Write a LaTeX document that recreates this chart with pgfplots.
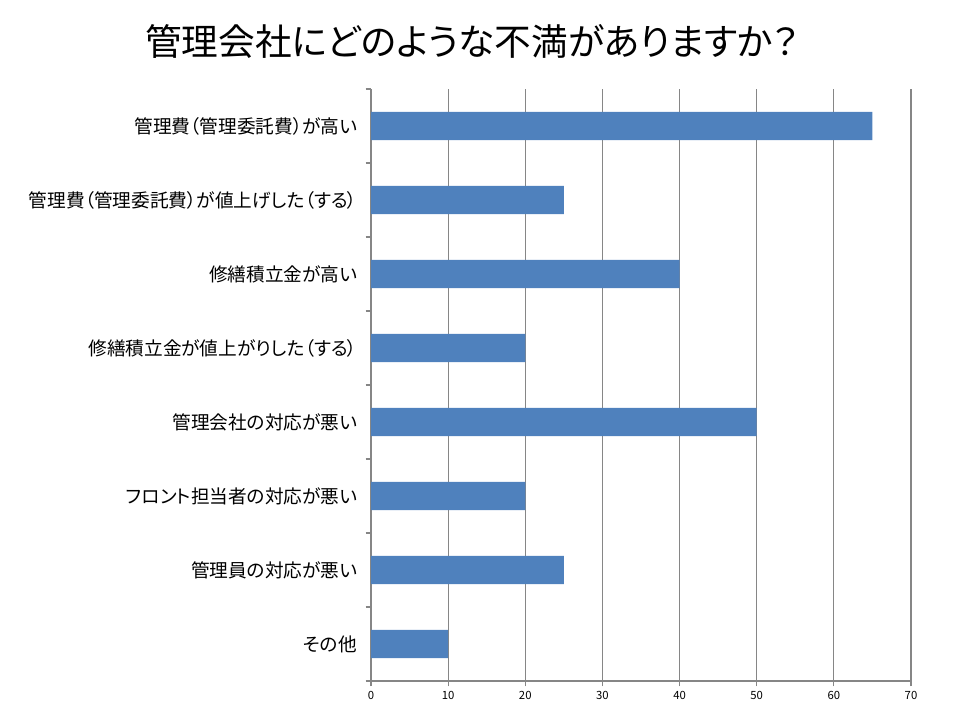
\documentclass[border=0pt]{standalone}
\usepackage{pgfplots}
\pgfplotsset{compat=1.18}
\usepackage{fontspec}
\setmainfont{Noto Sans CJK JP}[RawFeature=+palt]
\newfontfamily\titlefont{Noto Sans CJK JP}[RawFeature=+palt]
\definecolor{barblue}{HTML}{4F81BD}
\definecolor{gridgray}{HTML}{868686}
\begin{document}
\begin{tikzpicture}
\path[use as bounding box] (0,0) rectangle (720pt,540pt);
\node[font=\titlefont\fontsize{27.5}{30}\selectfont] at (354pt,508.5pt) {管理会社にどのような不満がありますか？};
\begin{axis}[
  at={(278.25pt,29.25pt)}, anchor=south west,
  scale only axis, width=405pt, height=444pt,
  xbar, bar width=0.38,
  xmin=0, xmax=70, xtick={0,10,...,70},
  ymin=-0.5, ymax=7.5, y dir=reverse,
  ytick={0,...,7},
  yticklabels={管理費（管理委託費）が高い,管理費（管理委託費）が値上げした（する）,修繕積立金が高い,修繕積立金が値上がりした（する）,管理会社の対応が悪い,フロント担当者の対応が悪い,管理員の対応が悪い,その他},
  minor ytick={-0.5,0.5,...,7.5},
  major y tick style={draw=none},
  minor tick length=4pt, major tick length=4pt,
  tick align=outside,
  axis x line*=bottom, axis y line*=left,
  axis line style={gridgray, thick},
  tick style={gridgray, thick},
  xmajorgrids, grid style={gridgray, thick},
  x axis line style={-}, y axis line style={-},
  yticklabel style={font=\fontsize{14}{16}\selectfont, xshift=-3pt},
  xticklabel style={font=\fontsize{8.5}{10}\selectfont},
  /pgf/number format/assume math mode=true,
  clip=false,
]
\addplot[fill=barblue, draw=none] coordinates {
(65,0) (25,1) (40,2) (20,3) (50,4) (20,5) (25,6) (10,7)
};
\end{axis}
\end{tikzpicture}
\end{document}
